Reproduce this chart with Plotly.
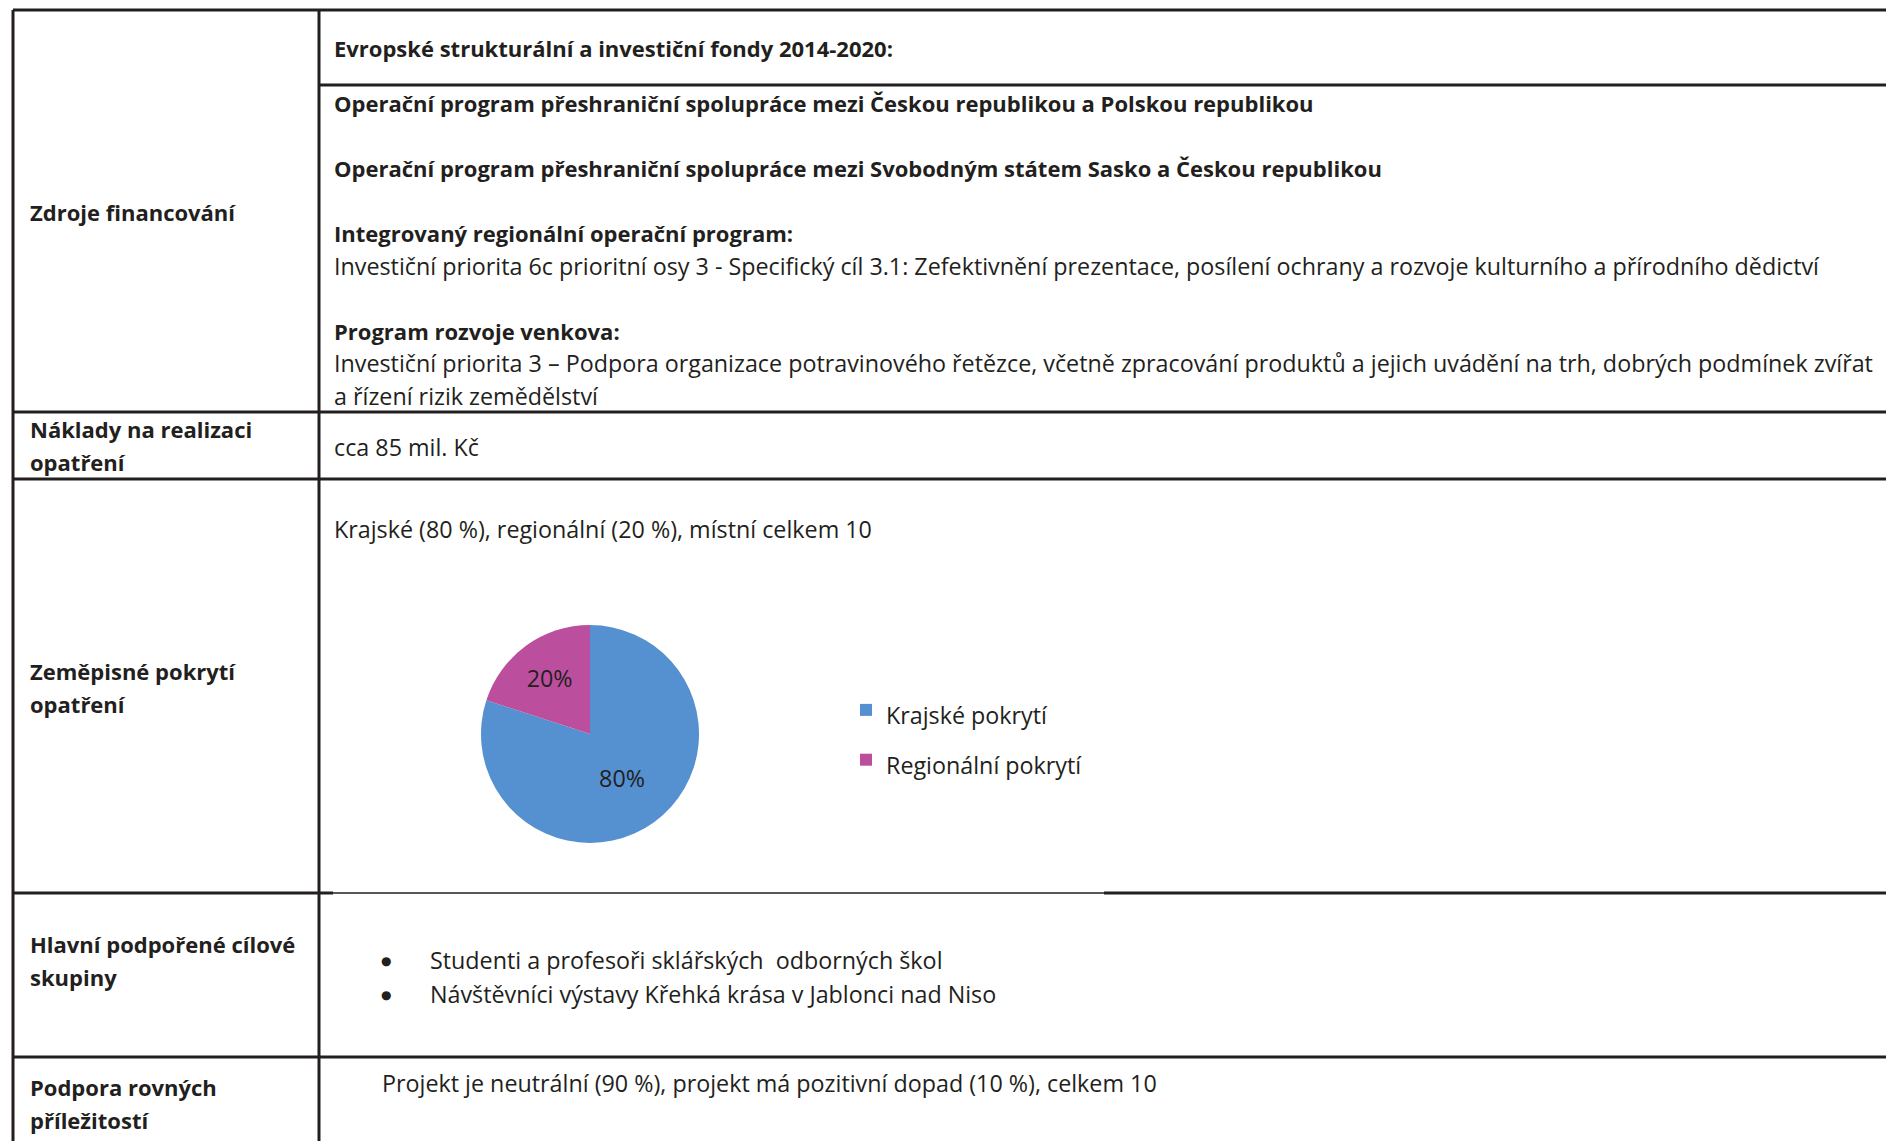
import plotly.graph_objects as go

W, H = 1886, 1141

# ---- data ----
row_labels = [
    ["Zdroje financování"],
    ["Náklady na realizaci", "opatření"],
    ["Zeměpisné pokrytí", "opatření"],
    ["Hlavní podpořené cílové", "skupiny"],
    ["Podpora rovných", "příležitostí"],
]
funding_lines = [
    ("Evropské strukturální a investiční fondy 2014-2020:", True),
    ("Operační program přeshraniční spolupráce mezi Českou republikou a Polskou republikou", True),
    ("Operační program přeshraniční spolupráce mezi Svobodným státem Sasko a Českou republikou", True),
    ("Integrovaný regionální operační program:", True),
    ("Investiční priorita 6c prioritní osy 3 - Specifický cíl 3.1: Zefektivnění prezentace, posílení ochrany a rozvoje kulturního a přírodního dědictví", False),
    ("Program rozvoje venkova:", True),
    ("Investiční priorita 3 – Podpora organizace potravinového řetězce, včetně zpracování produktů a jejich uvádění na trh, dobrých podmínek zvířat", False),
    ("a řízení rizik zemědělství", False),
]
cost_text = "cca 85 mil. Kč"
coverage_text = "Krajské (80 %), regionální (20 %), místní celkem 10"
pie_labels = ["Krajské pokrytí", "Regionální pokrytí"]
pie_values = [80, 20]
pie_colors = ["#5591d0", "#bb4f9e"]
target_groups = ["Studenti a profesoři sklářských  odborných škol",
                 "Návštěvníci výstavy Křehká krása v Jablonci nad Niso"]
equal_text = "Projekt je neutrální (90 %), projekt má pozitivní dopad (10 %), celkem 10"

# ---- layout helpers (pixel -> paper) ----
def px(x):
    return x / W

def py(y):
    return 1 - y / H

FONT = "Open Sans"
FS = 23.3      # regular text
FSB = 22.0     # bold text
INK = "#231f20"

shapes = []
def hline(x0, x1, y, w=3):
    shapes.append(dict(type="line", xref="paper", yref="paper",
                       x0=px(x0), x1=px(x1), y0=py(y), y1=py(y),
                       line=dict(color=INK, width=w)))
def vline(x, y0, y1, w=3):
    shapes.append(dict(type="line", xref="paper", yref="paper",
                       x0=px(x), x1=px(x), y0=py(y0), y1=py(y1),
                       line=dict(color=INK, width=w)))

LEFT, DIV, RIGHT = 13, 319, W
hline(LEFT, RIGHT, 10)
hline(DIV, RIGHT, 85)
hline(LEFT, RIGHT, 412)
hline(LEFT, RIGHT, 479)
hline(LEFT, 333, 893)
hline(333, 1104, 893, w=1.5)
hline(1104, RIGHT, 893)
hline(LEFT, RIGHT, 1057)
vline(LEFT, 10, H)
vline(DIV, 10, H)

annotations = []
def text(x, y, s, bold=False, size=None, family=FONT):
    if size is None:
        size = FSB if bold else FS
    if bold:
        s = "<b>" + s + "</b>"
    annotations.append(dict(xref="paper", yref="paper", x=px(x), y=py(y),
                            xanchor="left", yanchor="middle", showarrow=False,
                            text=s, font=dict(family=family, size=size, color=INK)))

# left column
label_pos = [[212], [429, 462], [671, 704], [944, 977], [1087, 1120]]
for lines, ys in zip(row_labels, label_pos):
    for s, y in zip(lines, ys):
        text(28, y, s, bold=True)

# funding
fund_y = [48, 103, 168, 233, 266, 331, 363, 396]
for (s, b), y in zip(funding_lines, fund_y):
    text(332, y, s, bold=b)

text(332, 447, cost_text)
text(332, 529, coverage_text)

for s, y in zip(target_groups, [960, 994]):
    text(379, y + 1, "●", size=12, family="DejaVu Sans")
    text(428, y, s)

text(380, 1083, equal_text)

pie = go.Pie(
    labels=[f"<span style='font-size:{FS}px'>{l}</span>" for l in pie_labels],
    values=pie_values,
    sort=False, direction="clockwise", rotation=0,
    marker=dict(colors=pie_colors, line=dict(width=0)),
    textinfo="percent", textposition="inside",
    insidetextorientation="horizontal",
    textfont=dict(family=FONT, size=FS, color=INK),
    hoverinfo="label+percent",
    domain=dict(x=[px(481), px(699)], y=[py(843), py(625)]),
)

fig = go.Figure(pie)
fig.update_layout(
    width=W, height=H,
    margin=dict(l=0, r=0, t=0, b=0),
    paper_bgcolor="white", plot_bgcolor="white",
    shapes=shapes, annotations=annotations,
    showlegend=True,
    legend=dict(x=px(846), y=py(680), xanchor="left", yanchor="top",
                font=dict(family=FONT, size=36, color=INK),
                bgcolor="rgba(0,0,0,0)", borderwidth=0,
                itemclick=False, itemdoubleclick=False),
)
fig.write_html(
    "out.html",
    config={"displayModeBar": False},
    post_script="document.body.style.margin='0';"
                "document.documentElement.style.overflow='hidden';"
                "document.body.style.overflow='hidden';",
)
